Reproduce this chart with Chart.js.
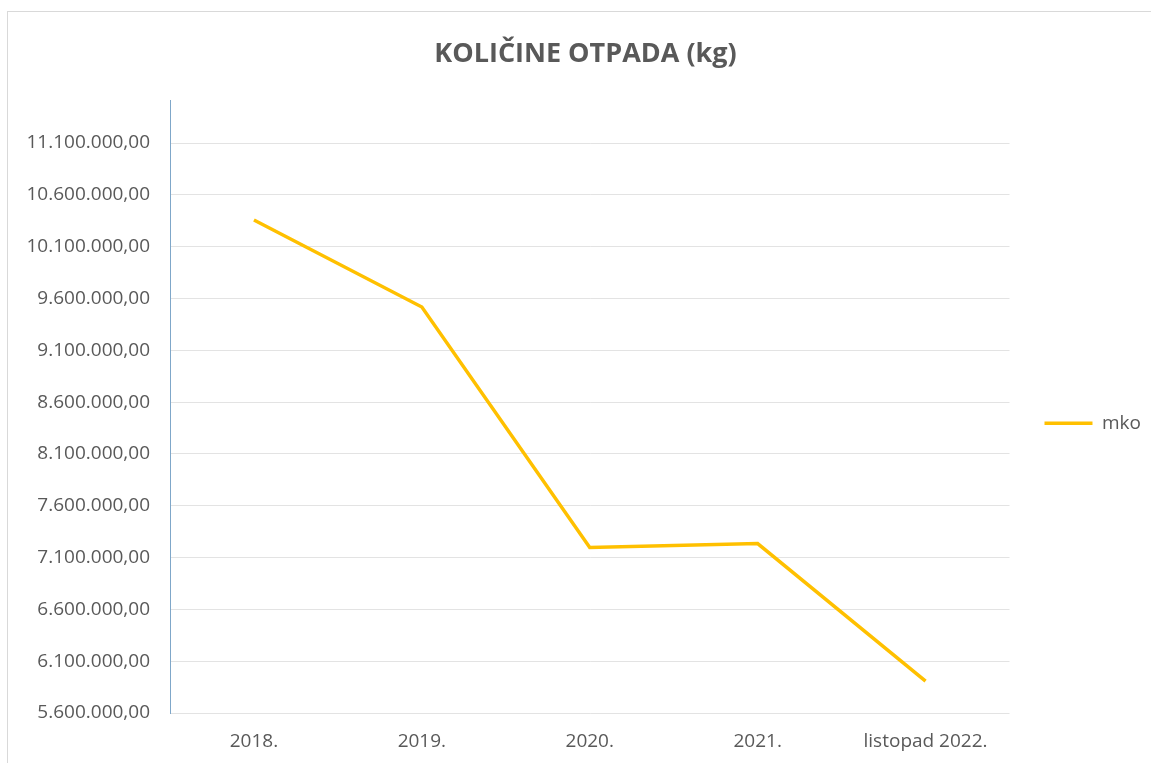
<!DOCTYPE html>
<html>
<head>
<meta charset="utf-8">
<script src="https://cdn.jsdelivr.net/npm/chart.js@4.4.1/dist/chart.umd.min.js"></script>
<style>
  html, body { margin: 0; padding: 0; background: #ffffff; }
  #wrap { position: relative; width: 1151px; height: 763px; overflow: hidden; }
  #frame { position: absolute; left: 7px; top: 11px; width: 1200px; height: 800px;
           border-top: 1px solid #d9d9d9; border-left: 1px solid #d9d9d9; }
  canvas { position: absolute; left: 0; top: 0; }
</style>
</head>
<body>
<div id="wrap">
  <div id="frame"></div>
  <canvas id="c" width="1151" height="763"></canvas>
</div>
<script>
const titleText = 'KOLIČINE OTPADA (kg)';
const categories = ['2018.', '2019.', '2020.', '2021.', 'listopad 2022.'];
const seriesName = 'mko';
const mkoValues = [10357000, 9517000, 7197000, 7235000, 5907000];
const yTickValues = [5600000, 6100000, 6600000, 7100000, 7600000, 8100000,
                     8600000, 9100000, 9600000, 10100000, 10600000, 11100000];
const yMin = 5600000;
const yTop = 11515000;

function fmt(v) {
  const n = Math.round(v);
  const s = String(n).replace(/\B(?=(\d{3})+(?!\d))/g, '.');
  return s + ',00';
}

const FONT = "'Open Sans', 'DejaVu Sans', sans-serif";
const TXT = '#595959';

new Chart(document.getElementById('c'), {
  type: 'line',
  data: {
    labels: categories,
    datasets: [{
      label: seriesName,
      data: mkoValues,
      borderColor: '#FFC000',
      backgroundColor: '#FFC000',
      borderWidth: 3.5,
      pointRadius: 0,
      pointStyle: 'line',
      tension: 0,
      fill: false
    }]
  },
  options: {
    responsive: false,
    animation: false,
    devicePixelRatio: 1,
    layout: { padding: { left: 20, right: 0, top: 0, bottom: 0 } },
    plugins: {
      title: {
        display: true,
        text: titleText,
        color: TXT,
        font: { family: FONT, size: 27, weight: 'bold', lineHeight: 1.2 },
        padding: { top: 38, bottom: 29.6 }
      },
      legend: {
        display: true,
        position: 'right',
        fullSize: false,
        title: { display: true, text: '', padding: 0, font: { size: 28, lineHeight: 1.2 } },
        labels: {
          color: TXT,
          font: { family: FONT, size: 19 },
          usePointStyle: true,
          pointStyle: 'line',
          pointStyleWidth: 48,
          padding: 35
        }
      },
      tooltip: { enabled: false }
    },
    scales: {
      x: {
        offset: true,
        afterFit: (s) => { s.height = 50; },
        grid: { display: false, drawTicks: false },
        border: { display: false },
        ticks: { color: TXT, font: { family: FONT, size: 19 }, padding: 17, maxRotation: 0 }
      },
      y: {
        min: yMin,
        max: yTop,
        afterFit: (s) => { s.width = 150; },
        afterBuildTicks: (s) => { s.ticks = yTickValues.map(v => ({ value: v })); },
        grid: { color: '#e3e3e3', lineWidth: 1, drawTicks: false },
        border: { display: true, color: '#7fa7c9', width: 1 },
        ticks: {
          color: TXT,
          font: { family: FONT, size: 19 },
          padding: 20,
          callback: (v) => fmt(v)
        }
      }
    }
  }
});
</script>
</body>
</html>
